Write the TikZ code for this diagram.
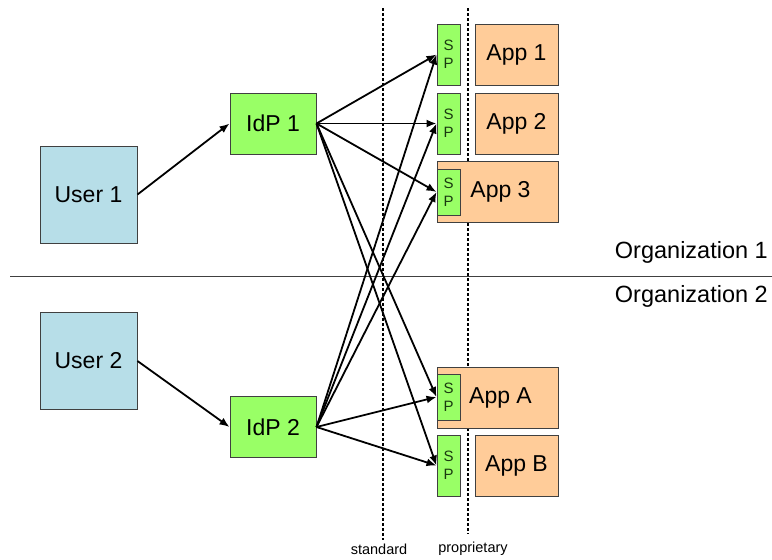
\documentclass[tikz,border=0pt]{standalone}
\usepackage{fontspec}
\setmainfont{Liberation Sans}
\usetikzlibrary{arrows.meta}
\definecolor{userblue}{HTML}{B7DEE8}
\definecolor{idpgreen}{HTML}{99FF66}
\definecolor{apppeach}{HTML}{FFCC99}
\definecolor{edgegray}{HTML}{404040}
\definecolor{sptext}{HTML}{1A3A10}
\tikzset{
  box/.style={draw=edgegray, line width=1pt, inner sep=0pt, font=\fontsize{23}{26}\selectfont},
  userbox/.style={box, fill=userblue, minimum width=97pt, minimum height=97pt},
  idpbox/.style={box, fill=idpgreen, minimum width=86pt, minimum height=61pt},
  appbox/.style={box, fill=apppeach, minimum width=83pt, minimum height=61pt},
  widebox/.style={box, fill=apppeach, minimum width=121pt, minimum height=61pt},
  spbox/.style={box, fill=idpgreen, minimum width=23pt, minimum height=61pt,
    align=center, text=sptext, font=\fontsize{15}{18}\selectfont},
  spsmall/.style={spbox, minimum height=46pt},
  link/.style={line width=1.8pt, -{Latex[length=10pt,width=8pt]}},
  divider/.style={line width=1.2pt, dash pattern=on 3pt off 2pt},
  small/.style={font=\fontsize{14.5}{16}\selectfont, inner sep=0pt},
  orglabel/.style={font=\fontsize{23.5}{26}\selectfont, inner sep=0pt, anchor=east}
}
\begin{document}
\begin{tikzpicture}[x=1pt,y=-1pt]
\useasboundingbox (0,0) rectangle (772,560);

% boundary between the two organisations
\draw[line width=1pt, edgegray] (10,276) -- (772,276);
\node[orglabel] (org1) at (768,252) {Organization 1};
\node[orglabel] (org2) at (768,296) {Organization 2};

% standard / proprietary separators
\coordinate (stdtop) at (383,8);
\coordinate (stdbot) at (383,540);
\coordinate (proptop) at (468,8);
\coordinate (propbot) at (468,534);
\draw[divider] (stdtop) -- (stdbot);
\draw[divider] (proptop) -- (propbot);
\node[small] (std) at (379,549) {standard};
\node[small] (prop) at (473,549) {proprietary};

% users and identity providers
\node[userbox] (u1) at (88.5,194.5) {User 1};
\node[userbox] (u2) at (88.5,361) {User 2};
\node[idpbox] (idp1) at (273,123.5) {IdP 1};
\node[idpbox] (idp2) at (273,427) {IdP 2};

% applications
\node[appbox] (app1) at (516.5,54.5) {App 1};
\node[appbox] (app2) at (516.5,123.5) {App 2};
\node[widebox] (app3) at (497.5,191.5) {\hspace*{6pt}App 3};
\node[widebox] (appa) at (497.5,397.5) {\hspace*{6pt}App A};
\node[appbox] (appb) at (516.5,465.5) {App B};

% service providers
\node[spbox] (sp1) at (448.5,54.5) {S\\P};
\node[spbox] (sp2) at (448.5,123.5) {S\\P};
\node[spsmall] (sp3) at (448.5,192) {S\\P};
\node[spsmall] (spa) at (448.5,397) {S\\P};
\node[spbox] (spb) at (448.5,465.5) {S\\P};

% connections
\draw[link] (u1.east) -- (idp1.west);
\draw[link] (u2.east) -- (idp2.west);
\foreach \s in {sp1,sp2,sp3,spa,spb}{
  \draw[link] (idp1.east) -- (\s.west);
  \draw[link] (idp2.east) -- (\s.west);
}
\end{tikzpicture}
\end{document}
